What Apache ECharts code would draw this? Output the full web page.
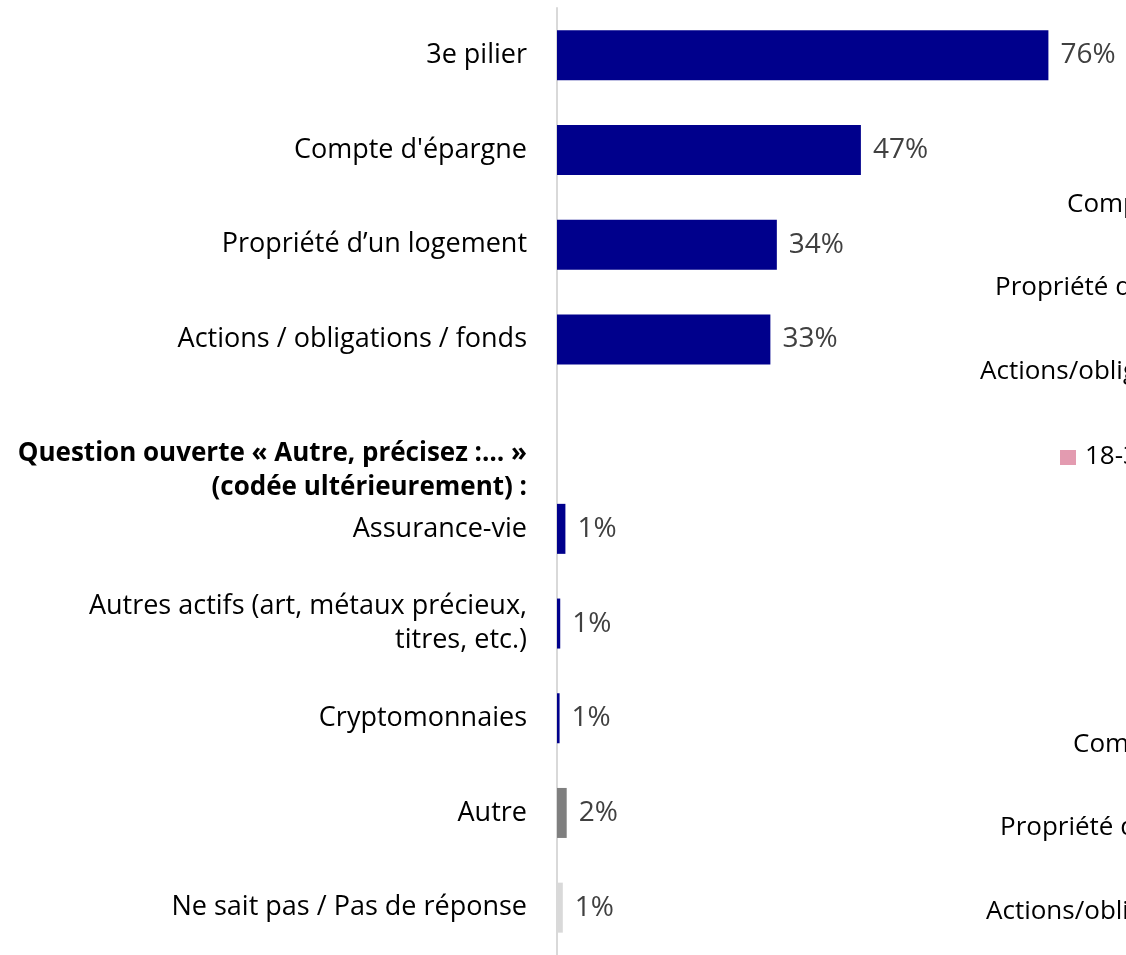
<!DOCTYPE html>
<html lang="fr">
<head>
    <meta charset="UTF-8">
    <title>Actifs</title>
    <script src="https://cdn.jsdelivr.net/npm/echarts@6/dist/echarts.min.js"></script>
    <style>
        body { margin: 0; padding: 0; background: #fff; }
        #box { width: 1126px; height: 955px; }
    </style>
</head>
<body>
<div id="box"></div>
<script>
    // categories (index 4 is the empty row under the bold heading)
    var categories = [
        '3e pilier',
        "Compte d'épargne",
        'Propriété d’un logement',
        'Actions / obligations / fonds',
        '',
        'Assurance-vie',
        'Autres actifs (art, métaux précieux,\ntitres, etc.)',
        'Cryptomonnaies',
        'Autre',
        'Ne sait pas / Pas de réponse'
    ];
    var values = [76, 47, 34, 33, null, 1.3, 0.5, 0.4, 1.5, 0.9];
    var valueLabels = ['76%', '47%', '34%', '33%', '', '1%', '1%', '1%', '2%', '1%'];
    var heading = ['Question ouverte « Autre, précisez :… »', '(codée ultérieurement) :'];
    // cut off labels of the neighbouring chart
    var sideLabels = ["Compte d'épargne", 'Propriété d’un logement', 'Actions/obligations/fonds',
        "Compte d'épargne", 'Propriété d’un logement', 'Actions/obligations/fonds'];
    var legendText = '18-34 ans';

    var navy = '#00008c';
    var barColors = [navy, navy, navy, navy, navy, navy, navy, navy, '#7f7f7f', '#d9d9d9'];
    var font = 'Open Sans';

    var myChart = echarts.init(document.getElementById('box'));

    var sideY = [205, 288, 372, 745, 828, 912];
    var sideX = [1067, 995, 980, 1073, 1000, 986];
    var graphics = [{
        type: 'text',
        x: 527,
        y: 471,
        style: {
            text: heading.join('\n'),
            font: 'bold 26px "' + font + '"',
            fill: '#000',
            align: 'right',
            verticalAlign: 'middle',
            lineHeight: 34
        }
    }, {
        type: 'rect',
        shape: {x: 1060, y: 450, width: 16, height: 15},
        style: {fill: '#e39bb0'}
    }, {
        type: 'text',
        x: 1085,
        y: 457,
        style: {
            text: legendText,
            font: '26px "' + font + '"',
            fill: '#000',
            verticalAlign: 'middle'
        }
    }];
    sideLabels.forEach(function (t, i) {
        graphics.push({
            type: 'text',
            x: sideX[i],
            y: sideY[i],
            style: {text: t, font: '26px "' + font + '"', fill: '#000', verticalAlign: 'middle'}
        });
    });

    var option = {
        animation: false,
        textStyle: {fontFamily: font},
        grid: {left: 557, right: 0, top: 8, height: 953},
        xAxis: {
            type: 'value',
            min: 0,
            max: 88,
            show: false
        },
        yAxis: {
            type: 'category',
            inverse: true,
            data: categories,
            axisLine: {lineStyle: {color: '#d9d9d9', width: 2}},
            axisTick: {show: false},
            axisLabel: {
                margin: 30,
                fontSize: 27,
                color: '#000',
                lineHeight: 34,
                fontFamily: font
            }
        },
        series: [{
            type: 'bar',
            barWidth: 50,
            data: values.map(function (v, i) {
                return {value: v, itemStyle: {color: barColors[i]}};
            }),
            label: {
                show: true,
                position: 'right',
                distance: 12,
                fontSize: 28,
                color: '#404040',
                fontFamily: font,
                formatter: function (p) { return valueLabels[p.dataIndex]; }
            }
        }],
        graphic: graphics
    };
    myChart.setOption(option);
</script>
</body>
</html>
